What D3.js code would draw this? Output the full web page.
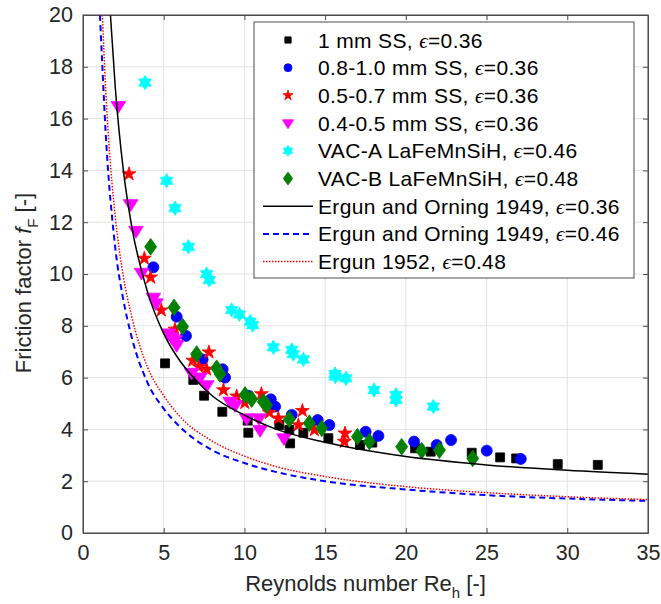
<!DOCTYPE html>
<html>
<head>
<meta charset="utf-8">
<script src="https://cdn.jsdelivr.net/npm/d3@7"></script>
<style>
  html, body { margin: 0; padding: 0; background: #fff; }
  svg { display: block; font-family: "Liberation Sans", Arial, Helvetica, sans-serif; }
</style>
</head>
<body>
<svg id="chart" width="661" height="604"></svg>
<script>
// Measured friction factor vs. hydraulic Reynolds number, packed beds
const xTicks = [0, 5, 10, 15, 20, 25, 30, 35];
const yTicks = [0, 2, 4, 6, 8, 10, 12, 14, 16, 18, 20];

// 1 mm SS
const ss1X = [5.08, 6.83, 7.50, 8.63, 10.20, 10.24, 12.16, 12.78, 12.83, 13.65, 15.20, 17.16, 17.92, 20.57, 21.54, 24.08, 25.84, 26.83, 29.41, 31.89];
const ss1Y = [6.55, 5.91, 5.30, 4.68, 4.34, 3.87, 4.17, 3.98, 3.46, 3.87, 3.66, 3.40, 3.49, 3.27, 3.14, 3.10, 2.92, 2.88, 2.66, 2.63];
// 0.8-1.0 mm SS
const ss08X = [4.36, 5.80, 6.38, 7.41, 8.65, 8.80, 10.25, 11.63, 11.90, 12.93, 14.54, 15.26, 17.51, 18.30, 20.51, 21.91, 22.80, 25.01, 27.12];
const ss08Y = [10.26, 8.35, 7.61, 6.70, 6.32, 6.00, 5.30, 5.16, 4.88, 4.56, 4.36, 4.17, 3.91, 3.75, 3.53, 3.40, 3.59, 3.18, 2.86];
// 0.5-0.7 mm SS
const ss05X = [2.85, 3.80, 4.19, 4.85, 5.70, 6.80, 7.18, 7.66, 7.80, 8.70, 9.52, 10.02, 11.05, 11.54, 12.10, 13.34, 13.59, 14.33, 16.23, 16.19];
const ss05Y = [13.86, 10.60, 9.87, 8.60, 7.86, 6.66, 6.42, 6.32, 6.98, 5.52, 5.28, 5.03, 5.37, 4.65, 4.43, 4.17, 4.72, 3.98, 3.85, 3.53];
// 0.4-0.5 mm SS
const ss04X = [2.19, 2.95, 3.28, 3.63, 4.36, 4.52, 5.29, 5.49, 5.70, 5.80, 6.73, 7.25, 7.66, 9.11, 9.42, 10.14, 10.90, 10.97, 12.45];
const ss04Y = [16.49, 12.70, 11.67, 10.05, 9.09, 8.87, 7.71, 7.56, 7.45, 7.26, 6.19, 6.01, 5.71, 5.07, 4.94, 4.43, 4.43, 3.98, 3.66];
// VAC-A LaFeMnSiH
const vacAX = [3.84, 5.18, 5.70, 6.53, 7.66, 7.82, 9.21, 9.69, 10.35, 10.51, 11.79, 12.93, 13.03, 13.65, 15.61, 15.63, 16.29, 18.03, 19.39, 19.39, 21.70];
const vacAY = [17.39, 13.60, 12.54, 11.05, 10.00, 9.77, 8.61, 8.44, 8.16, 8.03, 7.17, 7.07, 6.91, 6.70, 6.14, 6.04, 5.97, 5.52, 5.33, 5.14, 4.88];
// VAC-B LaFeMnSiH
const vacBX = [4.19, 5.64, 6.17, 7.04, 8.28, 8.49, 10.04, 10.45, 11.17, 11.38, 12.78, 14.02, 14.79, 17.00, 17.74, 19.74, 20.98, 22.08, 24.14];
const vacBY = [11.05, 8.71, 7.97, 6.91, 6.36, 6.14, 5.33, 5.17, 5.07, 4.94, 4.39, 4.24, 4.04, 3.72, 3.53, 3.33, 3.18, 3.20, 2.88];

// Correlation curves
const eo36X = [1.7, 2, 2.5, 3, 4, 5, 6, 7, 8, 10, 12, 15, 20, 25, 30, 35];
const eo36Y = [20.0, 17.2, 14.0, 11.9, 9.3, 7.7, 6.65, 5.9, 5.3, 4.55, 4.0, 3.5, 2.95, 2.63, 2.42, 2.27];
const eo46X = [1.05, 1.2, 1.4, 1.6, 1.8, 2, 2.5, 3, 4, 5, 6, 8, 10, 12, 15, 20, 25, 30, 35];
const eo46Y = [20.0, 18.0, 15.5, 13.6, 12.2, 11.0, 9.0, 7.6, 5.8, 4.8, 4.1, 3.2, 2.7, 2.35, 2.0, 1.68, 1.46, 1.33, 1.24];
const e52X = [1.2, 1.4, 1.6, 1.8, 2, 2.5, 3, 4, 5, 6, 8, 10, 12, 15, 20, 25, 30, 35];
const e52Y = [20.0, 17.2, 15.1, 13.5, 12.2, 9.9, 8.4, 6.4, 5.3, 4.5, 3.55, 2.97, 2.56, 2.18, 1.79, 1.56, 1.40, 1.29];

const seriesNames = [
  "1 mm SS, ", "0.8-1.0 mm SS, ", "0.5-0.7 mm SS, ", "0.4-0.5 mm SS, ",
  "VAC-A LaFeMnSiH, ", "VAC-B LaFeMnSiH, ",
  "Ergun and Orning 1949, ", "Ergun and Orning 1949, ", "Ergun 1952, "
];
const seriesEps = ["0.36", "0.36", "0.36", "0.36", "0.46", "0.48", "0.36", "0.46", "0.48"];

// ---- layout ----
const svg = d3.select("#chart");
const L = 83, R = 648, T = 15, B = 533;
const x = d3.scaleLinear().domain([0, 35]).range([L, R]);
const y = d3.scaleLinear().domain([0, 20]).range([B, T]);
const axisColor = "#4d4d4d";
const tickFont = 21.5;

svg.append("defs").append("clipPath").attr("id", "plotclip")
  .append("rect").attr("x", L).attr("y", T).attr("width", R - L).attr("height", B - T);

// grid
const grid = svg.append("g").attr("stroke", "#e3e3e3").attr("stroke-width", 1);
xTicks.forEach(v => grid.append("line").attr("x1", x(v)).attr("x2", x(v)).attr("y1", T).attr("y2", B));
yTicks.forEach(v => grid.append("line").attr("x1", L).attr("x2", R).attr("y1", y(v)).attr("y2", y(v)));

// axes with inward ticks on all four sides
const axB = d3.axisBottom(x).tickValues(xTicks).tickSizeInner(-5).tickSizeOuter(0).tickPadding(12);
const axL = d3.axisLeft(y).tickValues(yTicks).tickSizeInner(-5).tickSizeOuter(0).tickPadding(10);
const axT = d3.axisTop(x).tickValues(xTicks).tickSizeInner(-5).tickSizeOuter(0).tickFormat("");
const axR = d3.axisRight(y).tickValues(yTicks).tickSizeInner(-5).tickSizeOuter(0).tickFormat("");
function styleAxis(g) {
  g.selectAll("path,line").attr("stroke", axisColor);
  g.selectAll("text").attr("fill", "#262626").style("font-size", tickFont + "px")
    .style("font-family", '"Liberation Sans", Arial, sans-serif');
}
svg.append("g").attr("transform", `translate(0,${B})`).call(axB).call(styleAxis);
svg.append("g").attr("transform", `translate(${L},0)`).call(axL).call(styleAxis);
svg.append("g").attr("transform", `translate(0,${T})`).call(axT).call(styleAxis);
svg.append("g").attr("transform", `translate(${R},0)`).call(axR).call(styleAxis);

// marker shapes
const hexagram = {
  draw(ctx, size) {
    const r = Math.sqrt(size) * 0.62, ri = r / Math.sqrt(3);
    for (let i = 0; i < 12; i++) {
      const a = -Math.PI / 2 + i * Math.PI / 6;
      const rr = i % 2 === 0 ? r : ri;
      const px = rr * Math.cos(a), py = rr * Math.sin(a);
      if (i === 0) ctx.moveTo(px, py); else ctx.lineTo(px, py);
    }
    ctx.closePath();
  }
};
const diamond = {
  draw(ctx, size) {
    const h = Math.sqrt(size) * 0.66, w = h * 0.72;
    ctx.moveTo(0, -h); ctx.lineTo(w, 0); ctx.lineTo(0, h); ctx.lineTo(-w, 0); ctx.closePath();
  }
};
const triDown = {
  draw(ctx, size) {
    const s = Math.sqrt(size) * 0.62;
    ctx.moveTo(-s, -s * 0.6); ctx.lineTo(s, -s * 0.6); ctx.lineTo(0, s * 1.0); ctx.closePath();
  }
};

const scatterSeries = [
  { xs: ss1X, ys: ss1Y, color: "#000000", type: d3.symbolSquare, size: 80, lsize: 40 },
  { xs: ss08X, ys: ss08Y, color: "#0000ff", type: d3.symbolCircle, size: 95, lsize: 50 },
  { xs: ss05X, ys: ss05Y, color: "#ff0000", type: d3.symbolStar, size: 60, lsize: 32 },
  { xs: ss04X, ys: ss04Y, color: "#ff00ff", type: triDown, size: 140, lsize: 80 },
  { xs: vacAX, ys: vacAY, color: "#00ffff", type: hexagram, size: 135, lsize: 80 },
  { xs: vacBX, ys: vacBY, color: "#008000", type: diamond, size: 160, lsize: 95 }
];

const marks = svg.append("g").attr("clip-path", "url(#plotclip)");
scatterSeries.forEach(s => {
  const sym = d3.symbol().type(s.type).size(s.size);
  marks.append("g").selectAll("path").data(d3.zip(s.xs, s.ys)).join("path")
    .attr("transform", d => `translate(${x(d[0])},${y(d[1])})`)
    .attr("d", sym)
    .attr("fill", s.color).attr("stroke", s.color).attr("stroke-width", 0.8);
});

// correlation lines
const lineGen = d3.line().x(d => x(d[0])).y(d => y(d[1])).curve(d3.curveMonotoneX);
const curveSeries = [
  { xs: eo36X, ys: eo36Y, color: "#000000", width: 1.5, dash: null },
  { xs: eo46X, ys: eo46Y, color: "#0000ff", width: 2, dash: "6,4" },
  { xs: e52X, ys: e52Y, color: "#ff0000", width: 1.5, dash: "1.5,1.5" }
];
const lines = svg.append("g").attr("clip-path", "url(#plotclip)");
curveSeries.forEach(c => {
  lines.append("path").attr("d", lineGen(d3.zip(c.xs, c.ys)))
    .attr("fill", "none").attr("stroke", c.color).attr("stroke-width", c.width)
    .attr("stroke-dasharray", c.dash);
});

// axes box on top
svg.append("rect").attr("x", L).attr("y", T).attr("width", R - L).attr("height", B - T)
  .attr("fill", "none").attr("stroke", axisColor).attr("stroke-width", 1);

// legend
const lg = svg.append("g");
const LX = 254, LY = 22, LW = 380, LH = 256;
lg.append("rect").attr("x", LX).attr("y", LY).attr("width", LW).attr("height", LH)
  .attr("fill", "#fff").attr("stroke", axisColor).attr("stroke-width", 1);
const rowY = i => 40 + i * 27.7;
const legFont = 21;
seriesNames.forEach((name, i) => {
  const cy = rowY(i);
  if (i < 6) {
    const s = scatterSeries[i];
    lg.append("path").attr("transform", `translate(288,${cy})`)
      .attr("d", d3.symbol().type(s.type).size(s.lsize)())
      .attr("fill", s.color).attr("stroke", s.color).attr("stroke-width", 0.8);
  } else {
    const c = curveSeries[i - 6];
    lg.append("line").attr("x1", 263).attr("x2", 313).attr("y1", cy).attr("y2", cy)
      .attr("stroke", c.color).attr("stroke-width", c.width).attr("stroke-dasharray", c.dash);
  }
  const t = lg.append("text").attr("x", 318).attr("y", cy).attr("dy", "0.36em")
    .style("font-size", legFont + "px").style("letter-spacing", "0.35px").attr("fill", "#000");
  t.append("tspan").text(name);
  t.append("tspan").text("\u03F5").style("font-family", '"Liberation Serif", "DejaVu Serif", serif')
    .style("font-style", "italic");
  t.append("tspan").text("=" + seriesEps[i]);
});

// axis labels
const xl = svg.append("text").attr("x", (L + R) / 2).attr("y", 591).attr("text-anchor", "middle")
  .style("font-size", "22px").attr("fill", "#262626");
xl.append("tspan").text("Reynolds number Re");
xl.append("tspan").text("h").attr("dy", 7).style("font-size", "15px");
xl.append("tspan").text(" [-]").attr("dy", -7);

const yl = svg.append("text").attr("transform", `translate(31,${(T + B) / 2 + 9}) rotate(-90)`)
  .attr("text-anchor", "middle").style("font-size", "22px").attr("fill", "#262626");
yl.append("tspan").text("Friction factor ");
yl.append("tspan").text("f").style("font-style", "italic");
yl.append("tspan").text("F").attr("dy", 7).style("font-size", "15px");
yl.append("tspan").text(" [-]").attr("dy", -7);
</script>
</body>
</html>
